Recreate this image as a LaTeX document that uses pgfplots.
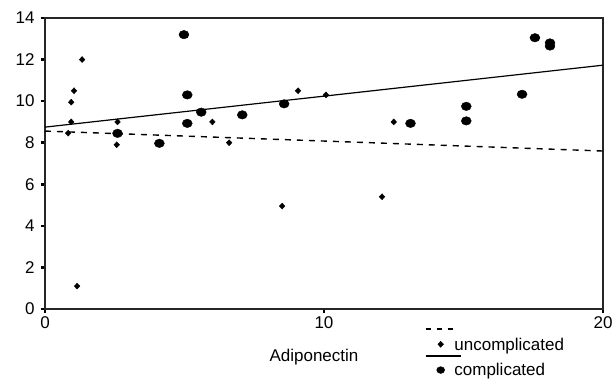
\documentclass[border=0pt]{standalone}
\usepackage{pgfplots}
\pgfplotsset{compat=1.18}
\usepackage{fontspec}
\setmainfont{Liberation Sans}
\begin{document}
\begin{tikzpicture}
\begin{axis}[
  at={(0pt,0pt)}, anchor=south west,
  scale only axis, width=558pt, height=291pt,
  xmin=0, xmax=20, ymin=0, ymax=14,
  xtick={0,10,20}, ytick={0,2,...,14},
  tick pos=left,
  tick align=outside, major tick length=4pt,
  tick style={black, line width=2.5pt},
  axis line style={black!85, line width=1.3pt},
  /pgf/number format/assume math mode=true,
  ticklabel style={font=\fontsize{17}{17}\selectfont},
  yticklabel style={xshift=-3pt},
  xlabel={Adiponectin},
  xlabel style={at={(axis description cs:0.482,-0.165)}, anchor=center, font=\fontsize{17}{17}\selectfont},
  legend cell align=left,
  legend style={at={(rel axis cs:0.681,-0.044)}, anchor=north west, draw=none, fill=none,
    inner sep=0pt, outer sep=0pt, row sep=0pt, column sep=0pt,
    font=\fontsize{17}{17}\selectfont,
    nodes={inner sep=0pt, text height=11.5pt, text depth=0pt}},
]
\addplot[forget plot, only marks, mark=diamond*, mark size=3pt, mark options={xscale=1.25, fill=black}] coordinates {
(1.33,12.0) (1.04,10.5) (0.94,9.95) (0.94,9.0) (0.83,8.46) (1.15,1.1)
(2.6,9.0) (2.57,7.9) (6.0,9.0) (6.6,8.0) (9.07,10.5) (10.07,10.3)
(8.5,4.95) (12.08,5.4) (12.5,9.0)};
\addplot[forget plot, only marks, mark=*, mark size=5pt, mark options={yscale=0.85, fill=black}] coordinates {
(2.6,8.45) (4.1,7.97) (4.98,13.2) (5.1,10.3) (5.1,8.93) (5.6,9.47)
(7.07,9.34) (8.57,9.87) (13.1,8.93) (15.1,9.75) (15.1,9.05) (17.1,10.33)
(17.56,13.05) (18.1,12.65) (18.1,12.8)};
\addplot[forget plot, black, line width=1.2pt] coordinates {(0,8.75) (20,11.73)};
\addplot[forget plot, black, line width=1.4pt, dash pattern=on 6pt off 6pt] coordinates {(0,8.56) (20,7.6)};

\addlegendimage{legend image code/.code={\path[draw=none,fill=none] (0pt,-7.5pt) rectangle (28pt,7pt); \draw[black, line width=1.4pt, dash pattern=on 5pt off 6pt] (0pt,0pt) -- (28pt,0pt);}}
\addlegendentry{}
\addlegendimage{legend image code/.code={\path[draw=none,fill=none] (0pt,-6pt) rectangle (28pt,8pt); \draw[black, mark=diamond*, mark size=3pt, mark options={xscale=1.25, fill=black}] plot coordinates {(15pt,0pt)};}}
\addlegendentry{uncomplicated}
\addlegendimage{legend image code/.code={\path[draw=none,fill=none] (0pt,-7pt) rectangle (28pt,5pt); \draw[overlay, black, line width=1.2pt] (0pt,0pt) -- (35pt,0pt);}}
\addlegendentry{}
\addlegendimage{legend image code/.code={\path[draw=none,fill=none] (0pt,-7pt) rectangle (28pt,7pt); \draw[black, mark=*, mark size=4pt, mark options={yscale=0.85, fill=black}] plot coordinates {(15pt,0pt)};}}
\addlegendentry{complicated}
\end{axis}
\pgfresetboundingbox
\path (-45pt,-70pt) rectangle (571pt,309pt);
\end{tikzpicture}
\end{document}
